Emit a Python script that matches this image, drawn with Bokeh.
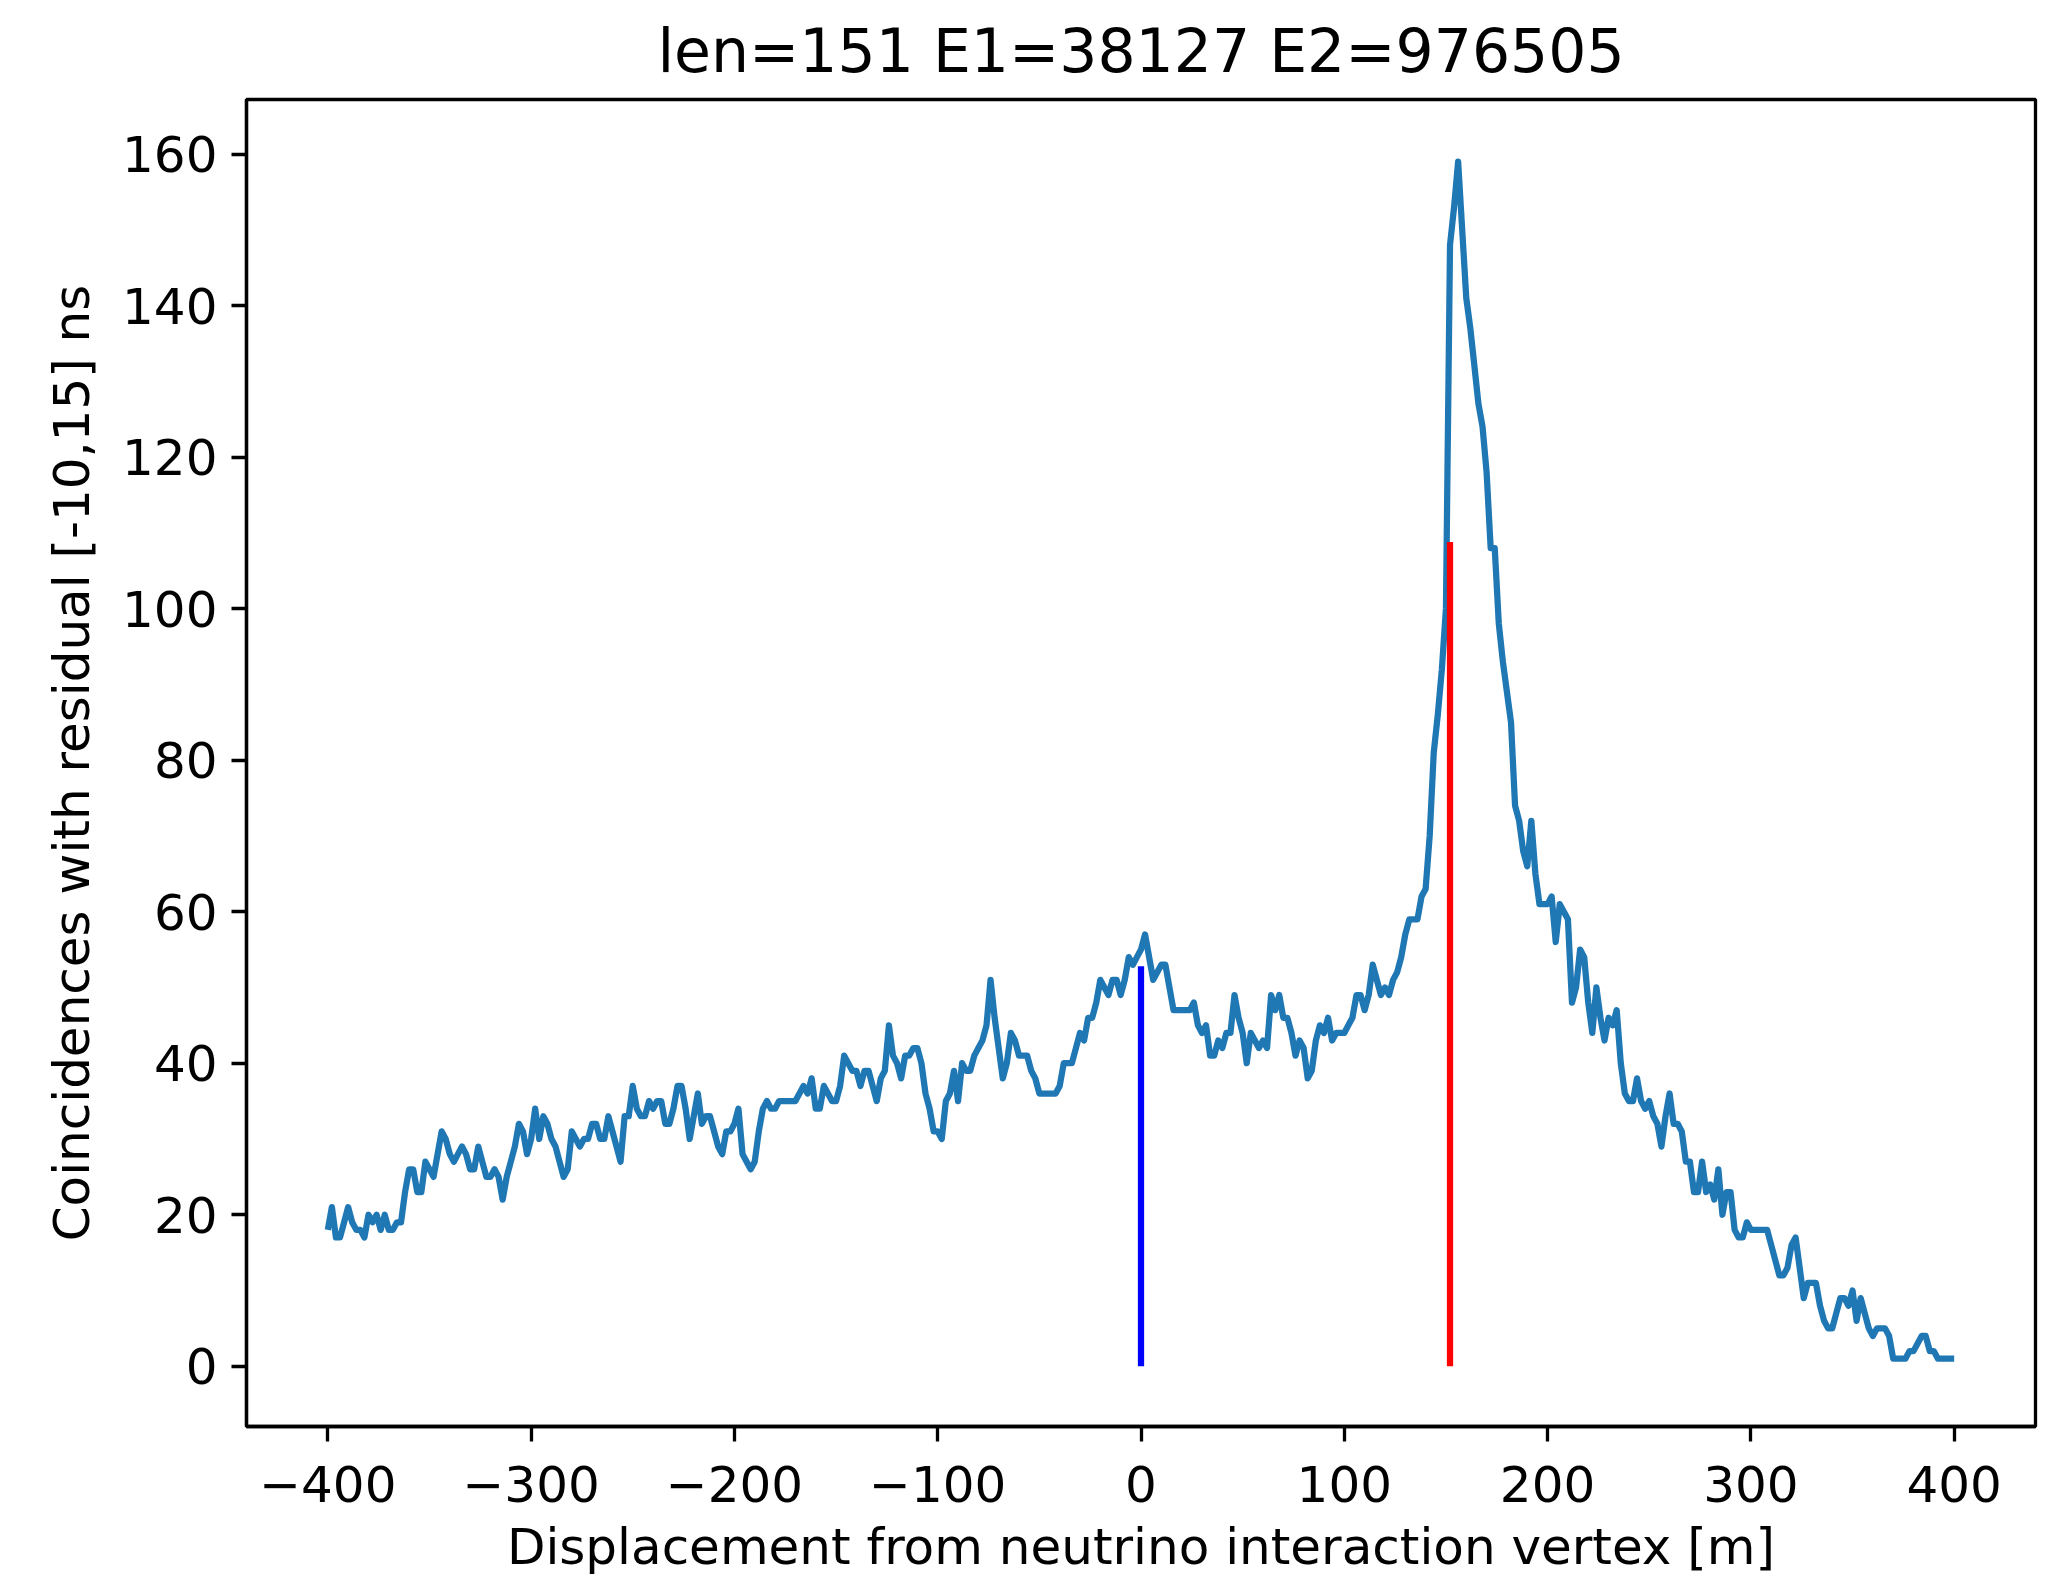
from bokeh.plotting import figure
from bokeh.models import Range1d, FixedTicker
from bokeh.embed import file_html
from bokeh.resources import INLINE

title_text = "len=151 E1=38127 E2=976505"
x_label = "Displacement from neutrino interaction vertex [m]"
y_label = "Coincidences with residual [-10,15] ns"

displacement = list(range(-400, 401, 2))
coincidences = [
    18, 21, 17, 17, 19, 21, 19, 18, 18, 17,
    20, 19, 20, 18, 20, 18, 18, 19, 19, 23,
    26, 26, 23, 23, 27, 26, 25, 28, 31, 30,
    28, 27, 28, 29, 28, 26, 26, 29, 27, 25,
    25, 26, 25, 22, 25, 27, 29, 32, 31, 28,
    30, 34, 30, 33, 32, 30, 29, 27, 25, 26,
    31, 30, 29, 30, 30, 32, 32, 30, 30, 33,
    31, 29, 27, 33, 33, 37, 34, 33, 33, 35,
    34, 35, 35, 32, 32, 34, 37, 37, 34, 30,
    33, 36, 32, 33, 33, 31, 29, 28, 31, 31,
    32, 34, 28, 27, 26, 27, 31, 34, 35, 34,
    34, 35, 35, 35, 35, 35, 36, 37, 36, 38,
    34, 34, 37, 36, 35, 35, 37, 41, 40, 39,
    39, 37, 39, 39, 37, 35, 38, 39, 45, 41,
    40, 38, 41, 41, 42, 42, 40, 36, 34, 31,
    31, 30, 35, 36, 39, 35, 40, 39, 39, 41,
    42, 43, 45, 51, 46, 42, 38, 40, 44, 43,
    41, 41, 41, 39, 38, 36, 36, 36, 36, 36,
    37, 40, 40, 40, 42, 44, 43, 46, 46, 48,
    51, 50, 49, 51, 51, 49, 51, 54, 53, 54,
    55, 57, 54, 51, 52, 53, 53, 50, 47, 47,
    47, 47, 47, 48, 45, 44, 45, 41, 41, 43,
    42, 44, 44, 49, 46, 44, 40, 44, 43, 42,
    43, 42, 49, 47, 49, 46, 46, 44, 41, 43,
    42, 38, 39, 43, 45, 44, 46, 43, 44, 44,
    44, 45, 46, 49, 49, 47, 49, 53, 51, 49,
    50, 49, 51, 52, 54, 57, 59, 59, 59, 62,
    63, 70, 81, 86, 92, 100, 148, 153, 159, 150,
    141, 137, 132, 127, 124, 118, 108, 108, 98, 93,
    89, 85, 74, 72, 68, 66, 72, 65, 61, 61,
    61, 62, 56, 61, 60, 59, 48, 50, 55, 54,
    48, 44, 50, 46, 43, 46, 45, 47, 40, 36,
    35, 35, 38, 35, 34, 35, 33, 32, 29, 33,
    36, 32, 32, 31, 27, 27, 23, 23, 27, 23,
    24, 22, 26, 20, 23, 23, 18, 17, 17, 19,
    18, 18, 18, 18, 18, 16, 14, 12, 12, 13,
    16, 17, 13, 9, 11, 11, 11, 8, 6, 5,
    5, 7, 9, 9, 8, 10, 6, 9, 7, 5,
    4, 5, 5, 5, 4, 1, 1, 1, 1, 2,
    2, 3, 4, 4, 2, 2, 1, 1, 1, 1,
    1,
]

marker_x = [0, 152]
marker_top = [52.8, 108.8]
marker_colors = ["#0000ff", "#ff0000"]

x_ticks = [-400, -300, -200, -100, 0, 100, 200, 300, 400]
y_ticks = [0, 20, 40, 60, 80, 100, 120, 140, 160]

FONT = "DejaVu Sans"

p = figure(width=2044, height=1578, output_backend="svg", toolbar_location=None,
           x_range=Range1d(-440, 440), y_range=Range1d(-7.95, 167.2),
           min_border_left=246, min_border_right=9, min_border_top=97,
           min_border_bottom=151, background_fill_color="white",
           border_fill_color="white")

p.title.text = title_text
p.title.text_font = FONT
p.title.text_font_size = "60px"
p.title.text_font_style = "normal"
p.title.text_color = "black"
p.title.align = "center"
p.title.standoff = 27

p.outline_line_color = "black"
p.outline_line_width = 3.3
p.outline_line_alpha = 1.0
p.xgrid.grid_line_color = None
p.ygrid.grid_line_color = None

for ax in (p.xaxis[0], p.yaxis[0]):
    ax.axis_line_width = 3.3
    ax.axis_line_color = "black"
    ax.major_tick_line_width = 3.3
    ax.major_tick_line_color = "black"
    ax.major_tick_out = 15
    ax.major_tick_in = 0
    ax.minor_tick_line_color = None
    ax.major_label_text_font = FONT
    ax.major_label_text_font_size = "50px"
    ax.major_label_text_color = "black"
    ax.axis_label_text_font = FONT
    ax.axis_label_text_font_size = "50px"
    ax.axis_label_text_font_style = "normal"
    ax.axis_label_text_color = "black"

p.xaxis[0].ticker = FixedTicker(ticks=x_ticks)
p.xaxis[0].major_label_overrides = {t: (str(t).replace("-", "\u2212")) for t in x_ticks}
p.xaxis[0].axis_label = x_label
p.xaxis[0].major_label_standoff = 24
p.xaxis[0].axis_label_standoff = 13

p.yaxis[0].ticker = FixedTicker(ticks=y_ticks)
p.yaxis[0].axis_label = y_label
p.yaxis[0].major_label_standoff = 14
p.yaxis[0].axis_label_standoff = 18

p.line(displacement, coincidences, line_width=6.25, line_color="#1f77b4",
       line_join="round")

p.segment(x0=marker_x, y0=[0, 0], x1=marker_x, y1=marker_top,
          line_color=marker_colors, line_width=6.25)

open("out.html", "w").write(file_html(p, INLINE))
